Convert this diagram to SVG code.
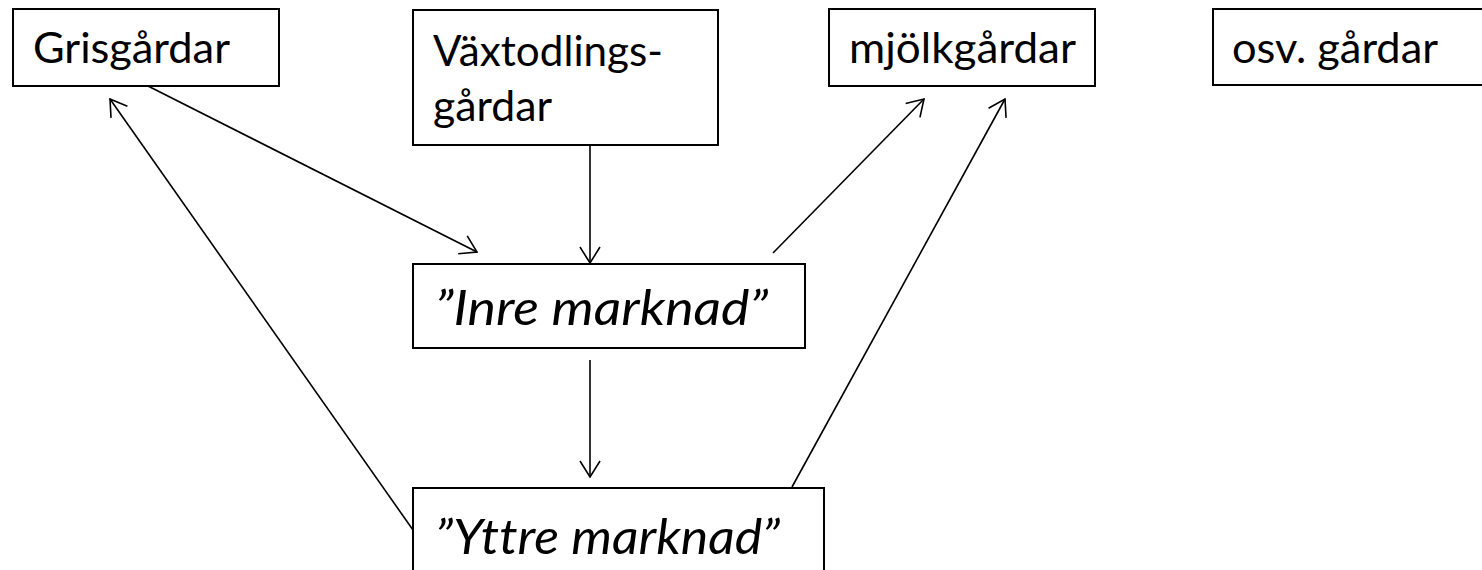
<svg xmlns="http://www.w3.org/2000/svg" width="1482" height="570" viewBox="0 0 1482 570">
<style>
.box{fill:#fff;stroke:#000;stroke-width:2}
.t{font-family:Lato,"Open Sans","Liberation Sans",sans-serif;font-size:43px;fill:#000;font-variant-ligatures:none}
.ti{font-family:Lato,"Open Sans","Liberation Sans",sans-serif;font-size:49px;font-style:italic;fill:#000;font-variant-ligatures:none}
.c{stroke:#000;stroke-width:1.6;fill:none;marker-end:url(#ah)}
</style>
<defs>
<marker id="ah" markerUnits="userSpaceOnUse" viewBox="0 0 18 22" refX="17" refY="11" markerWidth="18" markerHeight="22" orient="auto">
<path d="M1,1 L17,11 L1,21" fill="none" stroke="#000" stroke-width="1.6"/>
</marker>
</defs>
<rect width="1482" height="570" fill="#fff"/>
<g id="grisgardar">
<rect class="box" x="13" y="9" width="266" height="77"/>
<text class="t" x="33" y="63" textLength="197" lengthAdjust="spacingAndGlyphs">Grisgårdar</text>
</g>
<g id="vaxtodlingsgardar">
<rect class="box" x="413" y="10" width="305" height="135"/>
<text class="t" x="433" y="66" textLength="230" lengthAdjust="spacingAndGlyphs">Växtodlings-</text>
<text class="t" x="433" y="121" textLength="119" lengthAdjust="spacingAndGlyphs">gårdar</text>
</g>
<g id="mjolkgardar">
<rect class="box" x="829" y="9" width="266" height="77"/>
<text class="t" x="849" y="63" textLength="227" lengthAdjust="spacingAndGlyphs">mjölkgårdar</text>
</g>
<g id="osvgardar">
<rect class="box" x="1213" y="9" width="280" height="76"/>
<text class="t" x="1232" y="63" textLength="206" lengthAdjust="spacingAndGlyphs">osv. gårdar</text>
</g>
<g id="inremarknad">
<rect class="box" x="413" y="264" width="392" height="84"/>
<text class="ti" x="435" y="325" textLength="333" lengthAdjust="spacingAndGlyphs">”Inre marknad”</text>
</g>
<g id="yttremarknad">
<rect class="box" x="413" y="488" width="411" height="100"/>
<text class="ti" x="435" y="554" textLength="345" lengthAdjust="spacingAndGlyphs">”Yttre marknad”</text>
</g>
<g id="connectors">
<line class="c" x1="148" y1="86" x2="477" y2="252"/>
<line class="c" x1="590" y1="146" x2="590" y2="263"/>
<line class="c" x1="773" y1="253" x2="924" y2="99"/>
<line class="c" x1="792" y1="487" x2="1005" y2="99"/>
<line class="c" x1="590" y1="360" x2="590" y2="477"/>
<line class="c" x1="413" y1="530" x2="110" y2="99"/>
</g>
</svg>
